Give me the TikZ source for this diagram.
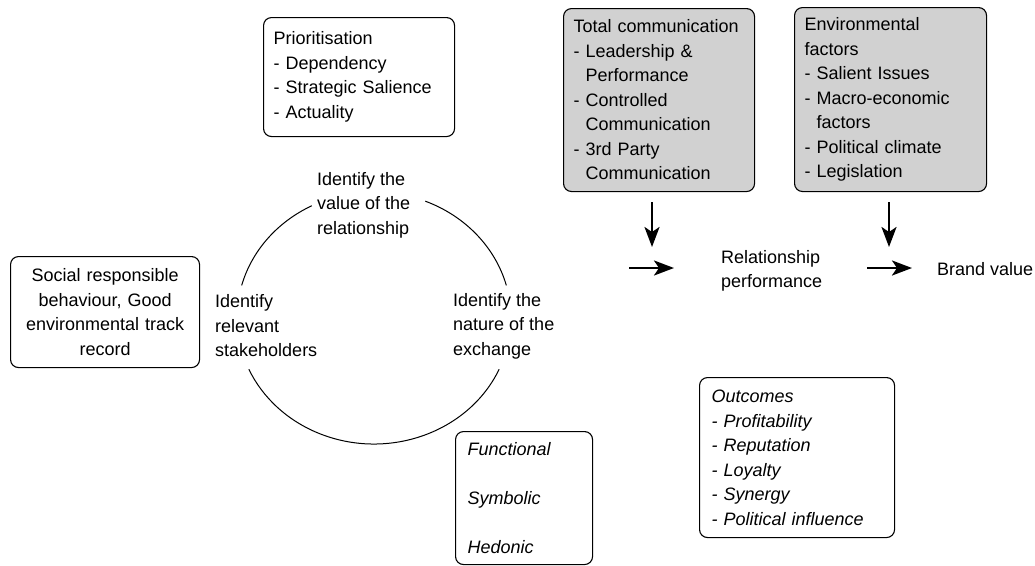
\documentclass[tikz,border=0pt]{standalone}
\usepackage{fontspec}
\setmainfont{Liberation Sans}
\usetikzlibrary{arrows.meta}
\newcommand{\ind}{\hphantom{-\ }}
\begin{document}
\begin{tikzpicture}[x=1pt,y=-1pt,
  every node/.style={font=\fontsize{18}{24.5}\selectfont},
  box/.style={draw,rounded corners=8pt,line width=1.1pt,anchor=north west,align=left,inner xsep=10pt,inner ysep=0pt},
  grbox/.style={box,fill=black!18},
  lbl/.style={anchor=west,align=left,inner sep=0pt},
  bigarr/.style={line width=2.6pt,-{Stealth[length=20pt,width=15pt,inset=5pt]}}]
\useasboundingbox (0,0) rectangle (1035,565);
% boxes
\node[box,text width=171pt,minimum height=119pt] (prio) at (263,17) {Prioritisation\\- Dependency\\- Strategic Salience\\- Actuality};
\node[box,align=center,text width=169pt,minimum height=111pt] (social) at (10,256) {Social responsible\\behaviour, Good\\environmental track\\record};
\node[grbox,text width=171pt,minimum height=183pt] (total) at (563,8) {Total communication\\- Leadership \&\\\ind Performance\\- Controlled\\\ind Communication\\- 3rd Party\\\ind Communication};
\node[grbox,text width=172pt,minimum height=184pt] (env) at (794,7) {Environmental\\factors\\- Salient Issues\\- Macro-economic\\\ind factors\\- Political climate\\- Legislation};
\node[box,font=\fontsize{18}{24.5}\selectfont\itshape,inner xsep=12pt,text width=113pt,minimum height=133pt] (func) at (455,431) {Functional\\[24.5pt]Symbolic\\[24.5pt]Hedonic};
\node[box,font=\fontsize{18}{24.5}\selectfont\itshape,inner xsep=12pt,text width=171pt,minimum height=160pt] (outc) at (699,377) {Outcomes\\- Profitability\\- Reputation\\- Loyalty\\- Synergy\\- Political influence};
% cycle
\coordinate (ctr) at (374,318);
\draw[line width=1pt] (ctr) ++(195:137 and 126) arc[start angle=195,end angle=243,x radius=137,y radius=126];
\draw[line width=1pt] (ctr) ++(292:137 and 126) arc[start angle=292,end angle=345,x radius=137,y radius=126];
\draw[line width=1pt] (ctr) ++(24:137 and 126) arc[start angle=24,end angle=156,x radius=137,y radius=126];
\node[lbl] (value) at (317,205) {Identify the\\value of the\\relationship};
\node[lbl] (stake) at (215,326) {Identify\\relevant\\stakeholders};
\node[lbl] (exch) at (453,326) {Identify the\\nature of the\\exchange};
% chain
\node[lbl] (rel) at (721,271) {Relationship\\performance};
\node[lbl] (brand) at (937,269) {Brand value};
\coordinate (t1) at (652,202);
\coordinate (t2) at (652,247);
\coordinate (e1) at (889,202);
\coordinate (e2) at (889,247);
\coordinate (r1) at (629,268);
\coordinate (r2) at (674,268);
\coordinate (b1) at (867,268);
\coordinate (b2) at (912,268);
\draw[bigarr] (t1) -- (t2);
\draw[bigarr] (e1) -- (e2);
\draw[bigarr] (r1) -- (r2);
\draw[bigarr] (b1) -- (b2);
\end{tikzpicture}
\end{document}
